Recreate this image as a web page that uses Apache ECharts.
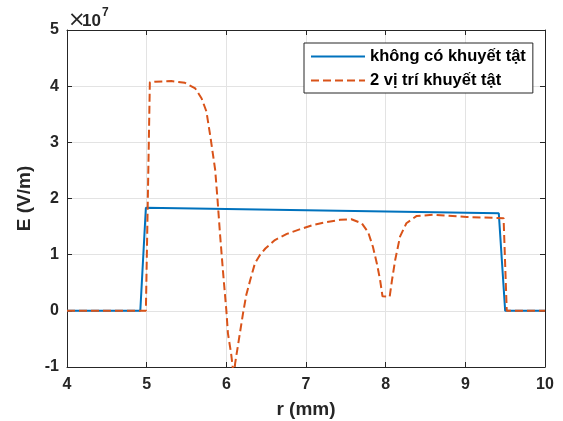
<!DOCTYPE html>
<html>
<head>
<meta charset="utf-8">
<script src="https://cdn.jsdelivr.net/npm/echarts@6/dist/echarts.min.js"></script>
<style>html,body{margin:0;padding:0;background:#fff;}#c{width:563px;height:421px;}</style>
</head>
<body>
<div id="c"></div>
<script>
var xTicks = [4, 5, 6, 7, 8, 9, 10];
var yTicks = [-1, 0, 1, 2, 3, 4, 5];
var seriesNames = ['không có khuyết tật', '2 vị trí khuyết tật'];
var blueX = [4, 4.92, 4.99, 9.42, 9.50, 10];
var blueY = [0, 0, 1.836, 1.736, 0, 0];
var redX = [4, 4.99, 5.04, 5.10, 5.31, 5.48, 5.61, 5.69, 5.75, 5.80, 5.86, 5.89, 5.92, 5.96, 6.00, 6.02, 6.06, 6.08, 6.095, 6.11, 6.15, 6.21, 6.25, 6.30, 6.36, 6.42, 6.49, 6.61, 6.76, 6.92, 7.09, 7.26, 7.43, 7.57, 7.70, 7.78, 7.84, 7.89, 7.93, 7.96, 8.05, 8.08, 8.12, 8.18, 8.26, 8.39, 8.60, 9.02, 9.48, 9.50, 9.52, 10];
var redY = [0, 0, 4.07, 4.08, 4.09, 4.06, 3.96, 3.78, 3.55, 3.10, 2.51, 1.97, 1.38, 0.67, 0.01, -0.40, -0.76, -1.0, -1.2, -0.94, -0.58, -0.04, 0.28, 0.55, 0.85, 0.99, 1.11, 1.26, 1.37, 1.45, 1.53, 1.58, 1.62, 1.63, 1.56, 1.40, 1.14, 0.84, 0.55, 0.26, 0.25, 0.55, 0.91, 1.32, 1.56, 1.69, 1.71, 1.67, 1.65, 1.62, 0, 0];

function zip(xs, ys) { return xs.map(function (x, i) { return [x, ys[i]]; }); }

var txt = '#262626';
var font = 'Liberation Sans, Arial, sans-serif';
var chart = echarts.init(document.getElementById('c'), null, {renderer: 'canvas'});
var axisBase = {
  axisLine: {show: true, onZero: false, lineStyle: {color: txt, width: 1}},
  axisTick: {show: true, inside: true, length: 5, lineStyle: {color: txt}},
};
chart.setOption({
  animation: false,
  backgroundColor: '#fff',
  grid: {left: 67, right: 18, top: 30, bottom: 54, containLabel: false, outerBoundsMode: 'none'},
  xAxis: [
    Object.assign({
      type: 'value', min: xTicks[0], max: xTicks[xTicks.length - 1], interval: 1,
      name: 'r (mm)', nameLocation: 'middle', nameGap: 33,
      nameTextStyle: {color: txt, fontSize: 19, fontWeight: 'bold', fontFamily: font},
      axisLabel: {color: txt, fontSize: 16, fontWeight: 'bold', fontFamily: font, margin: 10},
      splitLine: {show: true, lineStyle: {color: '#e3e3e3', width: 1}}
    }, axisBase),
    Object.assign({
      type: 'value', position: 'top', min: xTicks[0], max: xTicks[xTicks.length - 1], interval: 1,
      axisLabel: {show: false}, splitLine: {show: false}
    }, axisBase)
  ],
  yAxis: [
    Object.assign({
      type: 'value', min: yTicks[0], max: yTicks[yTicks.length - 1], interval: 1,
      name: 'E (V/m)', nameLocation: 'middle', nameGap: 33,
      nameTextStyle: {color: txt, fontSize: 19, fontWeight: 'bold', fontFamily: font},
      axisLabel: {color: txt, fontSize: 16, fontWeight: 'bold', fontFamily: font, margin: 8},
      splitLine: {show: true, lineStyle: {color: '#e3e3e3', width: 1}}
    }, axisBase),
    Object.assign({
      type: 'value', position: 'right', min: yTicks[0], max: yTicks[yTicks.length - 1], interval: 1,
      axisLabel: {show: false}, splitLine: {show: false}
    }, axisBase)
  ],
  legend: {
    orient: 'vertical', left: 304, top: 43,
    backgroundColor: '#fff',
    borderColor: txt, borderWidth: 1, borderRadius: 0,
    padding: [5, 7, 4, 6], itemGap: 7, itemWidth: 54, itemHeight: 14,
    itemStyle: {opacity: 0},
    textStyle: {color: '#000', fontSize: 16.5, fontWeight: 'bold', fontFamily: font},
    data: seriesNames
  },
  graphic: [
    {type: 'text', x: 68, y: 21, style: {text: '×', fontSize: 21, fontFamily: 'DejaVu Sans, sans-serif', fill: txt, verticalAlign: 'middle'}},
    {type: 'text', x: 82, y: 21, style: {text: '10', fontSize: 17, fontWeight: 'bold', fontFamily: font, fill: txt, verticalAlign: 'middle'}},
    {type: 'text', x: 102, y: 13, style: {text: '7', fontSize: 12, fontWeight: 'bold', fontFamily: font, fill: txt, verticalAlign: 'middle'}}
  ],
  series: [
    {
      name: seriesNames[0], type: 'line', data: zip(blueX, blueY), showSymbol: false, symbol: 'none',
      lineStyle: {color: '#0072BD', width: 2}, itemStyle: {color: '#0072BD'}, clip: true, z: 3
    },
    {
      name: seriesNames[1], type: 'line', data: zip(redX, redY), showSymbol: false, symbol: 'none',
      lineStyle: {color: '#D95319', width: 2, type: [8, 4]}, itemStyle: {color: '#D95319'}, clip: true, z: 4
    }
  ]
});
</script>
</body>
</html>
